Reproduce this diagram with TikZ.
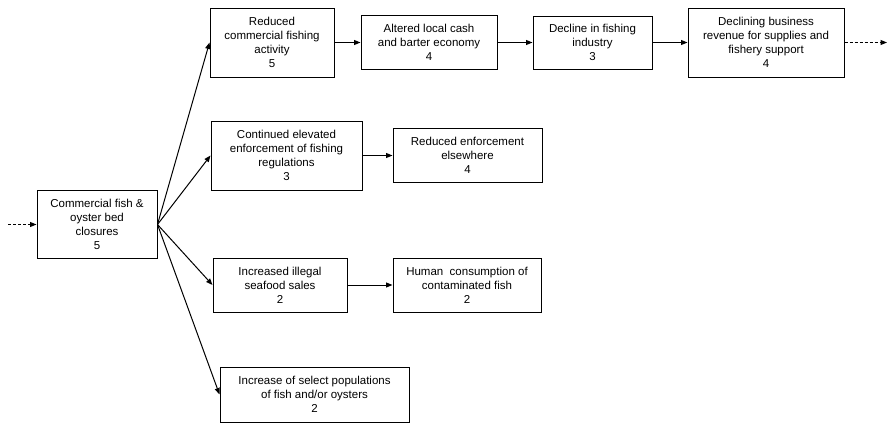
\documentclass[tikz,border=0pt]{standalone}
\usepackage{fontspec}
\setmainfont{Liberation Sans}
\usetikzlibrary{arrows.meta}
\usetikzlibrary{positioning}

\begin{document}
\begin{tikzpicture}[x=1pt,y=-1pt,->,>={Triangle[length=6.5pt,width=5pt]},line width=1pt,
    impact node/.style={draw,rectangle,align=center,inner sep=2pt,font=\fontsize{11.5}{14}\selectfont},
    loose end/.style={dash pattern=on 3pt off 2pt}]

        \useasboundingbox (0,0) rectangle (887,423);

        \node[impact node,minimum width=120pt,minimum height=68pt] (closure) at (97,224.5)
            {Commercial fish \&\\oyster bed\\closures\\5};

        \node[impact node,minimum width=124pt,minimum height=69pt] (fishing) at (272,42.5)
            {Reduced\\commercial fishing\\activity\\5};
        \node[impact node,minimum width=136pt,minimum height=54pt,right=26pt of fishing] (economy)
            {Altered local cash\\and barter economy\\4};
        \node[impact node,minimum width=119pt,minimum height=53pt,right=35pt of economy] (industry)
            {Decline in fishing\\industry\\3};
        \node[impact node,minimum width=156pt,minimum height=69pt,right=35pt of industry] (revenue)
            {Declining business\\revenue for supplies and\\fishery support\\4};

        \node[impact node,minimum width=151pt,minimum height=69pt] (enforce) at (286.5,155.5)
            {Continued elevated\\enforcement of fishing\\regulations\\3};
        \node[impact node,minimum width=149pt,minimum height=54pt,right=30pt of enforce] (elsewhere)
            {Reduced enforcement\\elsewhere\\4};

        \node[impact node,minimum width=134pt,minimum height=54pt] (illegal) at (280,285)
            {Increased illegal\\seafood sales\\2};
        \node[impact node,minimum width=148pt,minimum height=54pt,right=45pt of illegal] (consume)
            {Human~ consumption of\\contaminated fish\\2};

        \node[impact node,minimum width=189pt,minimum height=55pt] (popul) at (314.5,394.5)
            {Increase of select populations\\of fish and/or oysters\\2};

        \coordinate (in)  at (8,224.5);
        \coordinate (out) at (887,42.5);

        \draw[loose end] (in) -- (closure);
        \draw[loose end] (revenue) -- (out);

        \path
            (closure.east) edge (fishing.west)
                           edge (enforce.west)
                           edge (illegal.west)
                           edge (popul.west)
            (fishing)      edge (economy)
            (economy)      edge (industry)
            (industry)     edge (revenue)
            (enforce)      edge (elsewhere)
            (illegal)      edge (consume);
\end{tikzpicture}
\end{document}
